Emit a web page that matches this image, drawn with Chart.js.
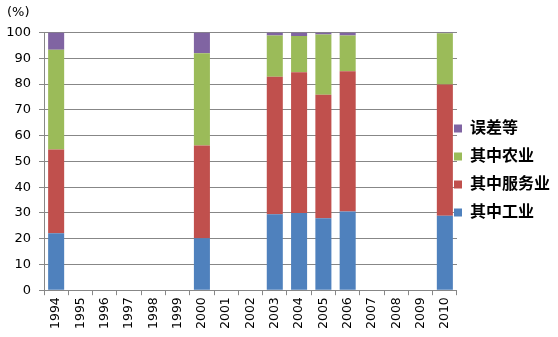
<!DOCTYPE html>
<html>
<head>
<meta charset="utf-8">
<script src="https://cdn.jsdelivr.net/npm/chart.js@4/dist/chart.umd.min.js"></script>
<style>
  html, body { margin: 0; padding: 0; background: #fff; }
  #wrap { width: 558px; height: 337px; }
</style>
</head>
<body>
<div id="wrap"><canvas id="c"></canvas></div>
<script>
const years = ['1994','1995','1996','1997','1998','1999','2000','2001','2002','2003','2004','2005','2006','2007','2008','2009','2010']
const industry = [22.1, null, null, null, null, null, 20.2, null, null, 29.5, 30.0, 27.9, 30.5, null, null, null, 28.9]
const services = [32.5, null, null, null, null, null, 36.0, null, null, 53.4, 54.6, 48.0, 54.5, null, null, null, 51.0]
const agriculture = [38.7, null, null, null, null, null, 35.8, null, null, 16.0, 14.1, 23.4, 13.9, null, null, null, 19.8]
const errors = [6.7, null, null, null, null, null, 8.0, null, null, 1.1, 1.3, 0.7, 1.1, null, null, null, 0.3]
const seriesNames = ['其中工业', '其中服务业', '其中农业', '误差等']
const yTicks = [0, 10, 20, 30, 40, 50, 60, 70, 80, 90, 100]

const colors = ['#4F81BD', '#C0504D', '#9BBB59', '#8064A2']
const gridColor = '#878787'
const fontFamily = '"DejaVu Sans", "Noto Sans CJK SC", sans-serif'

function makeSet(i, data){
  return {
    label: seriesNames[i],
    data: data,
    backgroundColor: colors[i],
    borderWidth: 0,
    categoryPercentage: 1,
    barPercentage: 0.66
  }
}

// pull the legend in next to the plot like the excel original
const legendShift = {
  id: 'legendShift',
  afterLayout(chart){
    const lg = chart.legend
    lg.left -= 15
    lg.right -= 15
    lg.top += 5
    lg.bottom += 5
  }
}

new Chart(document.getElementById('c'), {
  type: 'bar',
  data: {
    labels: years,
    datasets: [
      makeSet(0, industry),
      makeSet(1, services),
      makeSet(2, agriculture),
      makeSet(3, errors)
    ]
  },
  options: {
    responsive: true,
    maintainAspectRatio: false,
    animation: false,
    layout: { padding: { left: 7, right: -17, top: 0, bottom: 6 } },
    plugins: {
      title: {
        display: true,
        text: '(%)',
        align: 'start',
        color: '#000',
        font: { family: fontFamily, size: 13, weight: 'normal' },
        padding: { top: 5, bottom: 12 }
      },
      legend: {
        position: 'right',
        align: 'center',
        reverse: true,
        labels: {
          boxWidth: 8,
          boxHeight: 8,
          padding: 12,
          color: '#000',
          font: { family: fontFamily, size: 16, weight: 'bold' }
        }
      },
      tooltip: { enabled: false }
    },
    scales: {
      x: {
        stacked: true,
        grid: {
          display: true,
          offset: true,
          drawOnChartArea: false,
          drawTicks: true,
          tickLength: 5,
          color: gridColor
        },
        border: { color: gridColor, width: 1 },
        ticks: {
          color: '#000',
          maxRotation: 90,
          minRotation: 90,
          autoSkip: false,
          padding: 2,
          font: { family: fontFamily, size: 12.5 }
        }
      },
      y: {
        stacked: true,
        min: 0,
        max: 100,
        afterBuildTicks: (axis) => { axis.ticks = yTicks.map(v => ({value: v})) },
        afterFit: (axis) => { axis.width = 37 },
        grid: {
          color: gridColor,
          tickLength: 5,
          lineWidth: 1
        },
        border: { color: gridColor, width: 1 },
        ticks: {
          color: '#000',
          padding: 8,
          font: { family: fontFamily, size: 13 }
        }
      }
    }
  },
  plugins: [legendShift]
})
</script>
</body>
</html>
